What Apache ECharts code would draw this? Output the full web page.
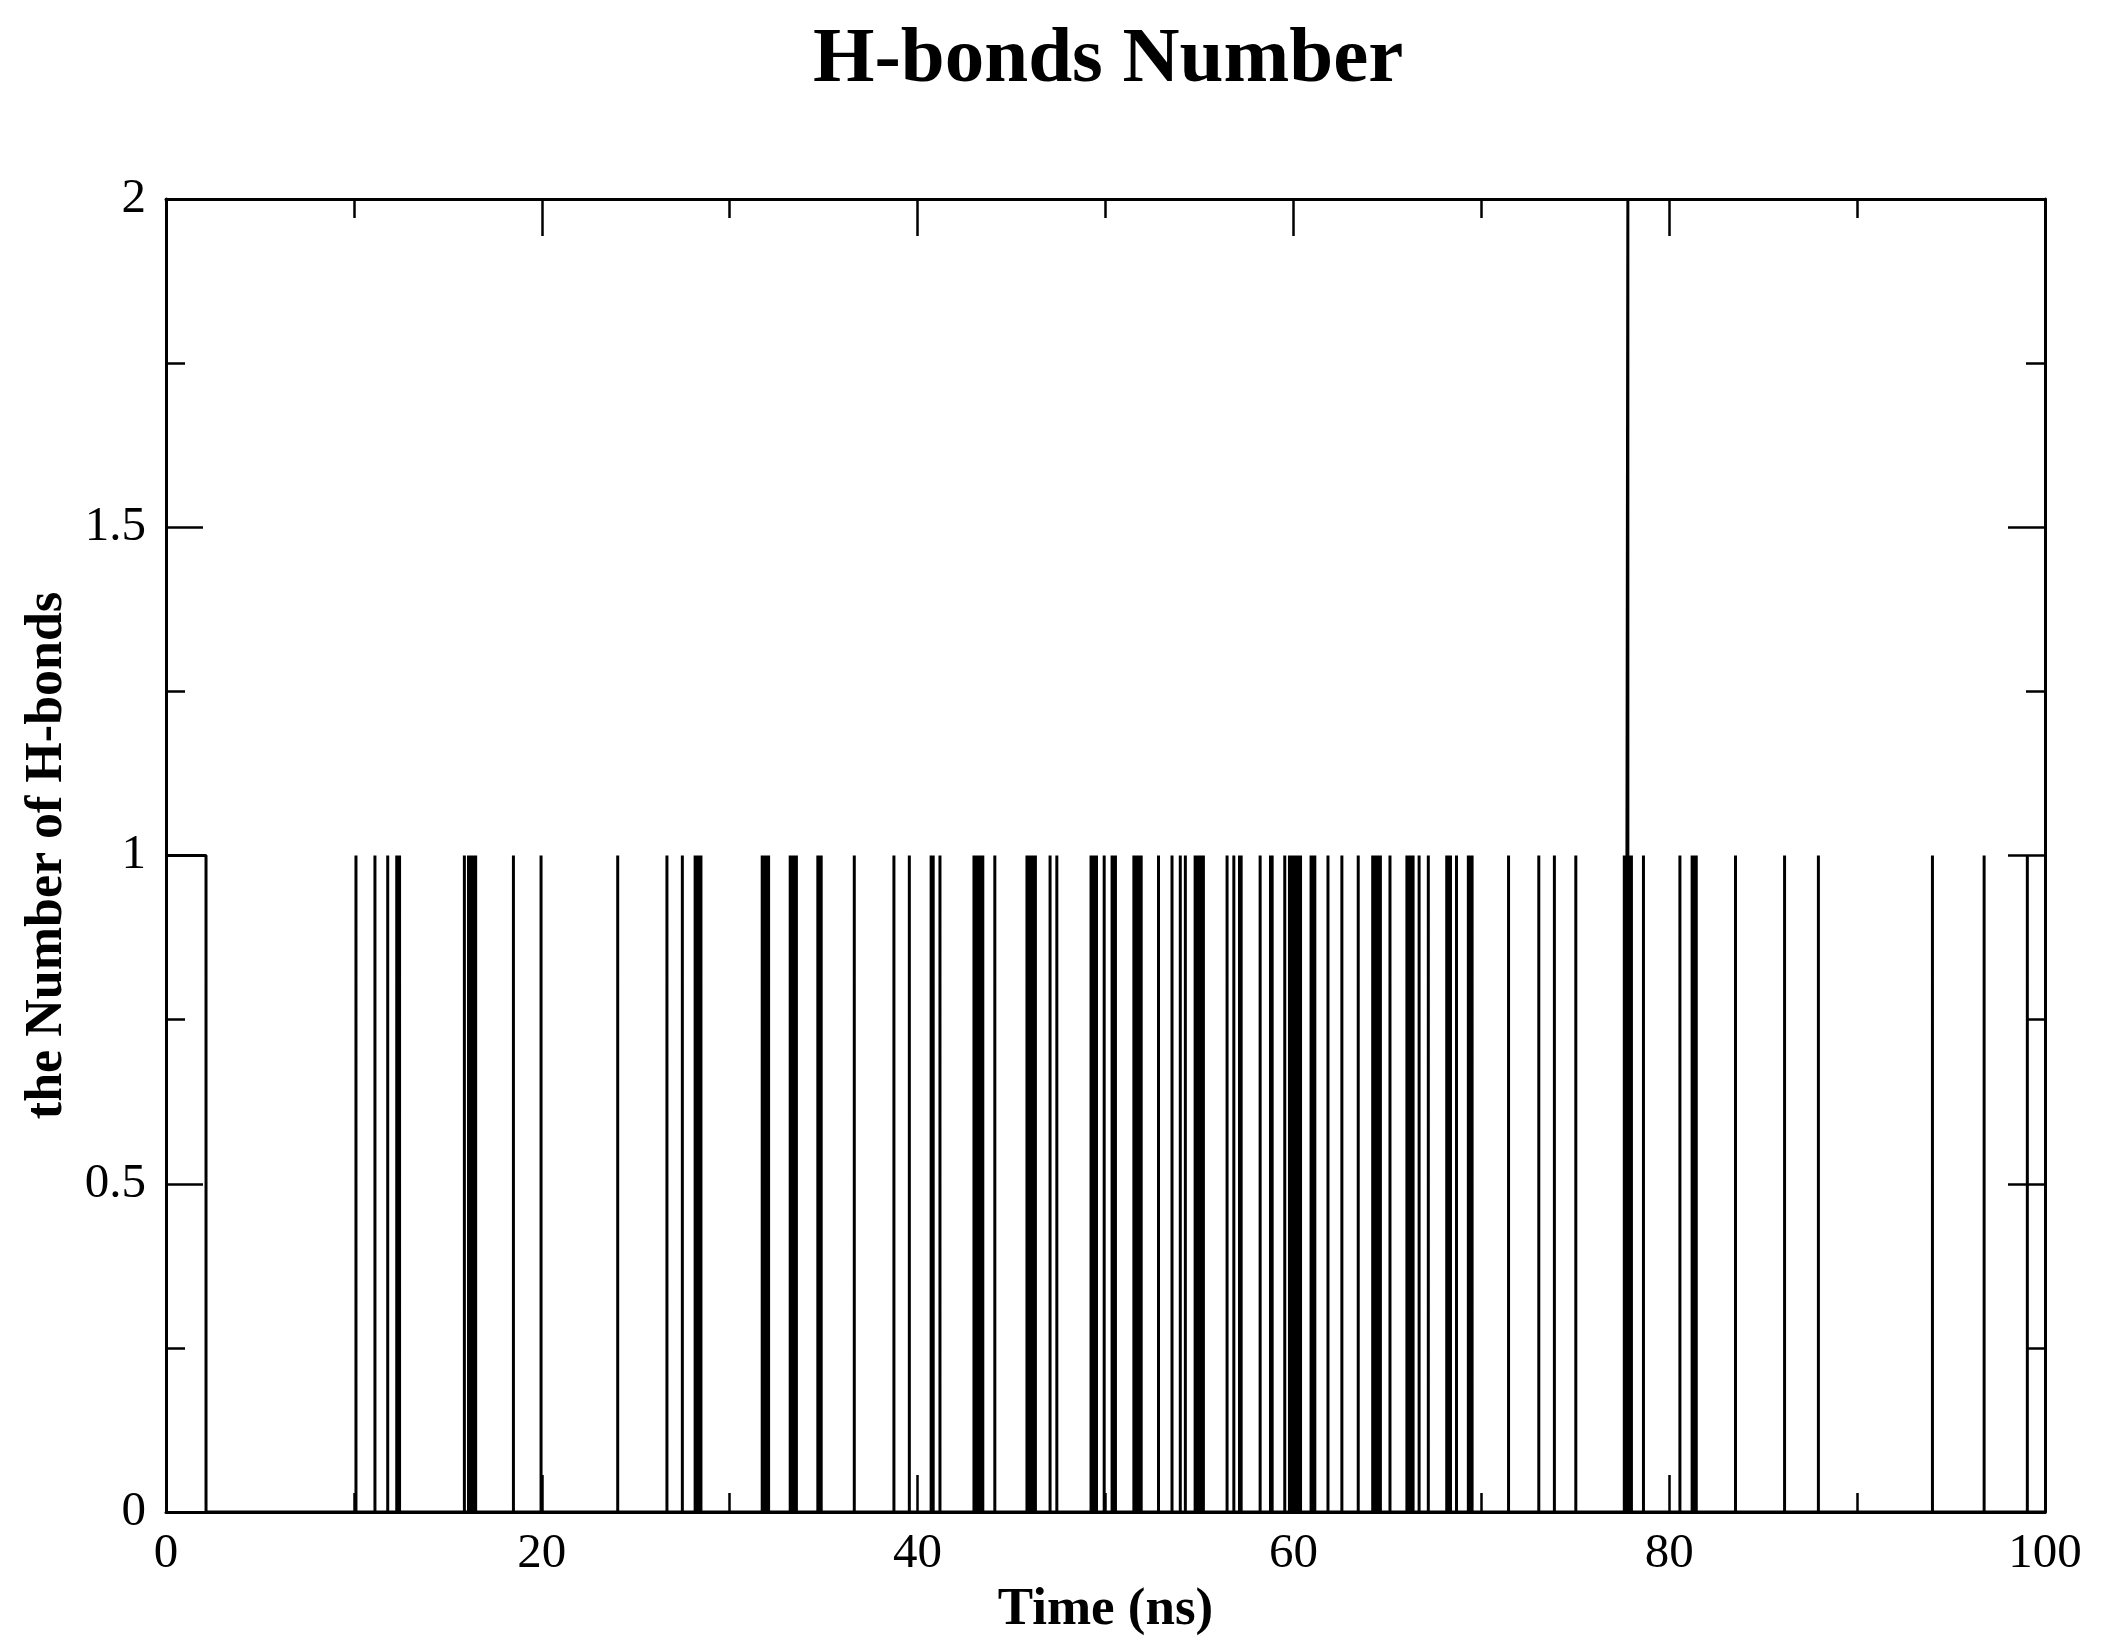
<!DOCTYPE html>
<html>
<head>
<meta charset="utf-8">
<title>H-bonds Number</title>
<script src="https://cdn.jsdelivr.net/npm/echarts@6/dist/echarts.min.js"></script>
<style>
  html, body { margin: 0; padding: 0; background: #fff; }
  #chart { width: 2105px; height: 1648px; }
</style>
</head>
<body>
<div id="chart"></div>
<script>
// time (ns) where one H-bond is held over a stretch
var heldOne = [[0, 2.13]];
// short-lived single H-bond events, time in ns
var oneBondTimes = [
  10.11, 11.12, 11.80, 12.28, 12.43, 15.88,
  16.10, 16.20, 16.30, 16.40, 16.48, 18.49, 19.96,
  24.04, 26.66, 27.48, 28.16, 28.26, 28.36, 28.47,
  31.73, 31.81, 31.96, 32.07, 33.22, 33.32, 33.42, 33.55,
  34.69, 34.78, 34.87, 36.63, 38.74, 39.56, 40.72, 40.83, 41.19,
  43.00, 43.10, 43.20, 43.30, 43.40, 43.47, 44.11,
  45.82, 45.92, 46.02, 46.12, 46.22, 46.27, 47.05, 47.41,
  49.23, 49.33, 49.43, 49.52, 49.93, 50.35, 50.44, 50.53,
  51.51, 51.61, 51.71, 51.81, 51.90, 52.82, 53.54, 53.98, 54.25,
  54.77, 54.87, 54.97, 55.07, 55.17, 55.21, 56.47, 56.83, 57.13, 57.22,
  58.23, 58.78, 58.87, 59.54,
  59.79, 59.89, 59.99, 60.09, 60.19, 60.29, 60.38,
  60.94, 61.04, 61.14, 61.84, 62.58, 63.45,
  64.22, 64.32, 64.42, 64.52, 64.63, 65.14,
  66.04, 66.14, 66.24, 66.37, 66.69, 67.18, 68.16, 68.26, 68.36, 68.68,
  69.31, 69.41, 69.51, 71.45, 73.06, 73.89, 75.03,
  77.61, 77.70, 77.90, 77.99, 78.63, 80.57, 81.22, 81.33, 81.44,
  83.53, 86.14, 87.94, 94.01, 96.76, 99.06
];
// short-lived double H-bond events
var twoBondTimes = [77.80];

var xTicks = { min: 0, max: 100, step: 20 };
var yTicks = { min: 0, max: 2, step: 0.5 };

// polyline of the trace
var events = [];
oneBondTimes.forEach(function (t) { events.push([t, 1]); });
twoBondTimes.forEach(function (t) { events.push([t, 2]); });
events.sort(function (a, b) { return a[0] - b[0]; });

var trace = [];
heldOne.forEach(function (h) {
  trace.push([h[0], 1], [h[1], 1], [h[1], 0]);
});
events.forEach(function (e) {
  trace.push([e[0], 0], [e[0], e[1]], [e[0], 0]);
});
trace.push([xTicks.max, 0]);

var serif = 'Liberation Serif';
var lineCol = '#000';

function axisBase(showLabel) {
  return {
    type: 'value',
    splitLine: { show: false },
    axisLine: { show: true, onZero: false, lineStyle: { color: lineCol, width: 3 } },
    axisTick: { show: true, inside: true, length: 37, lineStyle: { color: lineCol, width: 2.5 } },
    minorTick: { show: true, splitNumber: 2, length: 19, lineStyle: { color: lineCol, width: 2.5 } },
    axisLabel: { show: showLabel, color: '#000', fontFamily: serif, fontSize: 49, margin: 18 }
  };
}

var chart = echarts.init(document.getElementById('chart'));

var xBottom = axisBase(true);
xBottom.position = 'bottom';
xBottom.min = xTicks.min; xBottom.max = xTicks.max; xBottom.interval = xTicks.step;
xBottom.name = 'Time (ns)';
xBottom.nameLocation = 'middle';
xBottom.nameGap = 62;
xBottom.nameTextStyle = { color: '#000', fontFamily: serif, fontWeight: 'bold', fontSize: 53 };

var xTop = axisBase(false);
xTop.position = 'top';
xTop.min = xTicks.min; xTop.max = xTicks.max; xTop.interval = xTicks.step;

var yLeft = axisBase(true);
yLeft.position = 'left';
yLeft.min = yTicks.min; yLeft.max = yTicks.max; yLeft.interval = yTicks.step;
yLeft.axisLabel.margin = 20;
yLeft.name = 'the Number of H-bonds';
yLeft.nameLocation = 'middle';
yLeft.nameGap = 89;
yLeft.nameTextStyle = { color: '#000', fontFamily: serif, fontWeight: 'bold', fontSize: 52 };

var yRight = axisBase(false);
yRight.position = 'right';
yRight.min = yTicks.min; yRight.max = yTicks.max; yRight.interval = yTicks.step;

chart.setOption({
  animation: false,
  backgroundColor: '#fff',
  title: {
    text: 'H-bonds Number',
    left: 808,
    top: 16,
    textStyle: { color: '#000', fontFamily: serif, fontWeight: 'bold', fontSize: 79 }
  },
  grid: { left: 166, right: 60, top: 199, bottom: 136, containLabel: false },
  xAxis: [xBottom, xTop],
  yAxis: [yLeft, yRight],
  series: [{
    type: 'line',
    xAxisIndex: 0,
    yAxisIndex: 0,
    data: trace,
    showSymbol: false,
    symbol: 'none',
    sampling: null,
    lineStyle: { color: lineCol, width: 3 },
    z: 3
  }]
});
</script>
</body>
</html>
